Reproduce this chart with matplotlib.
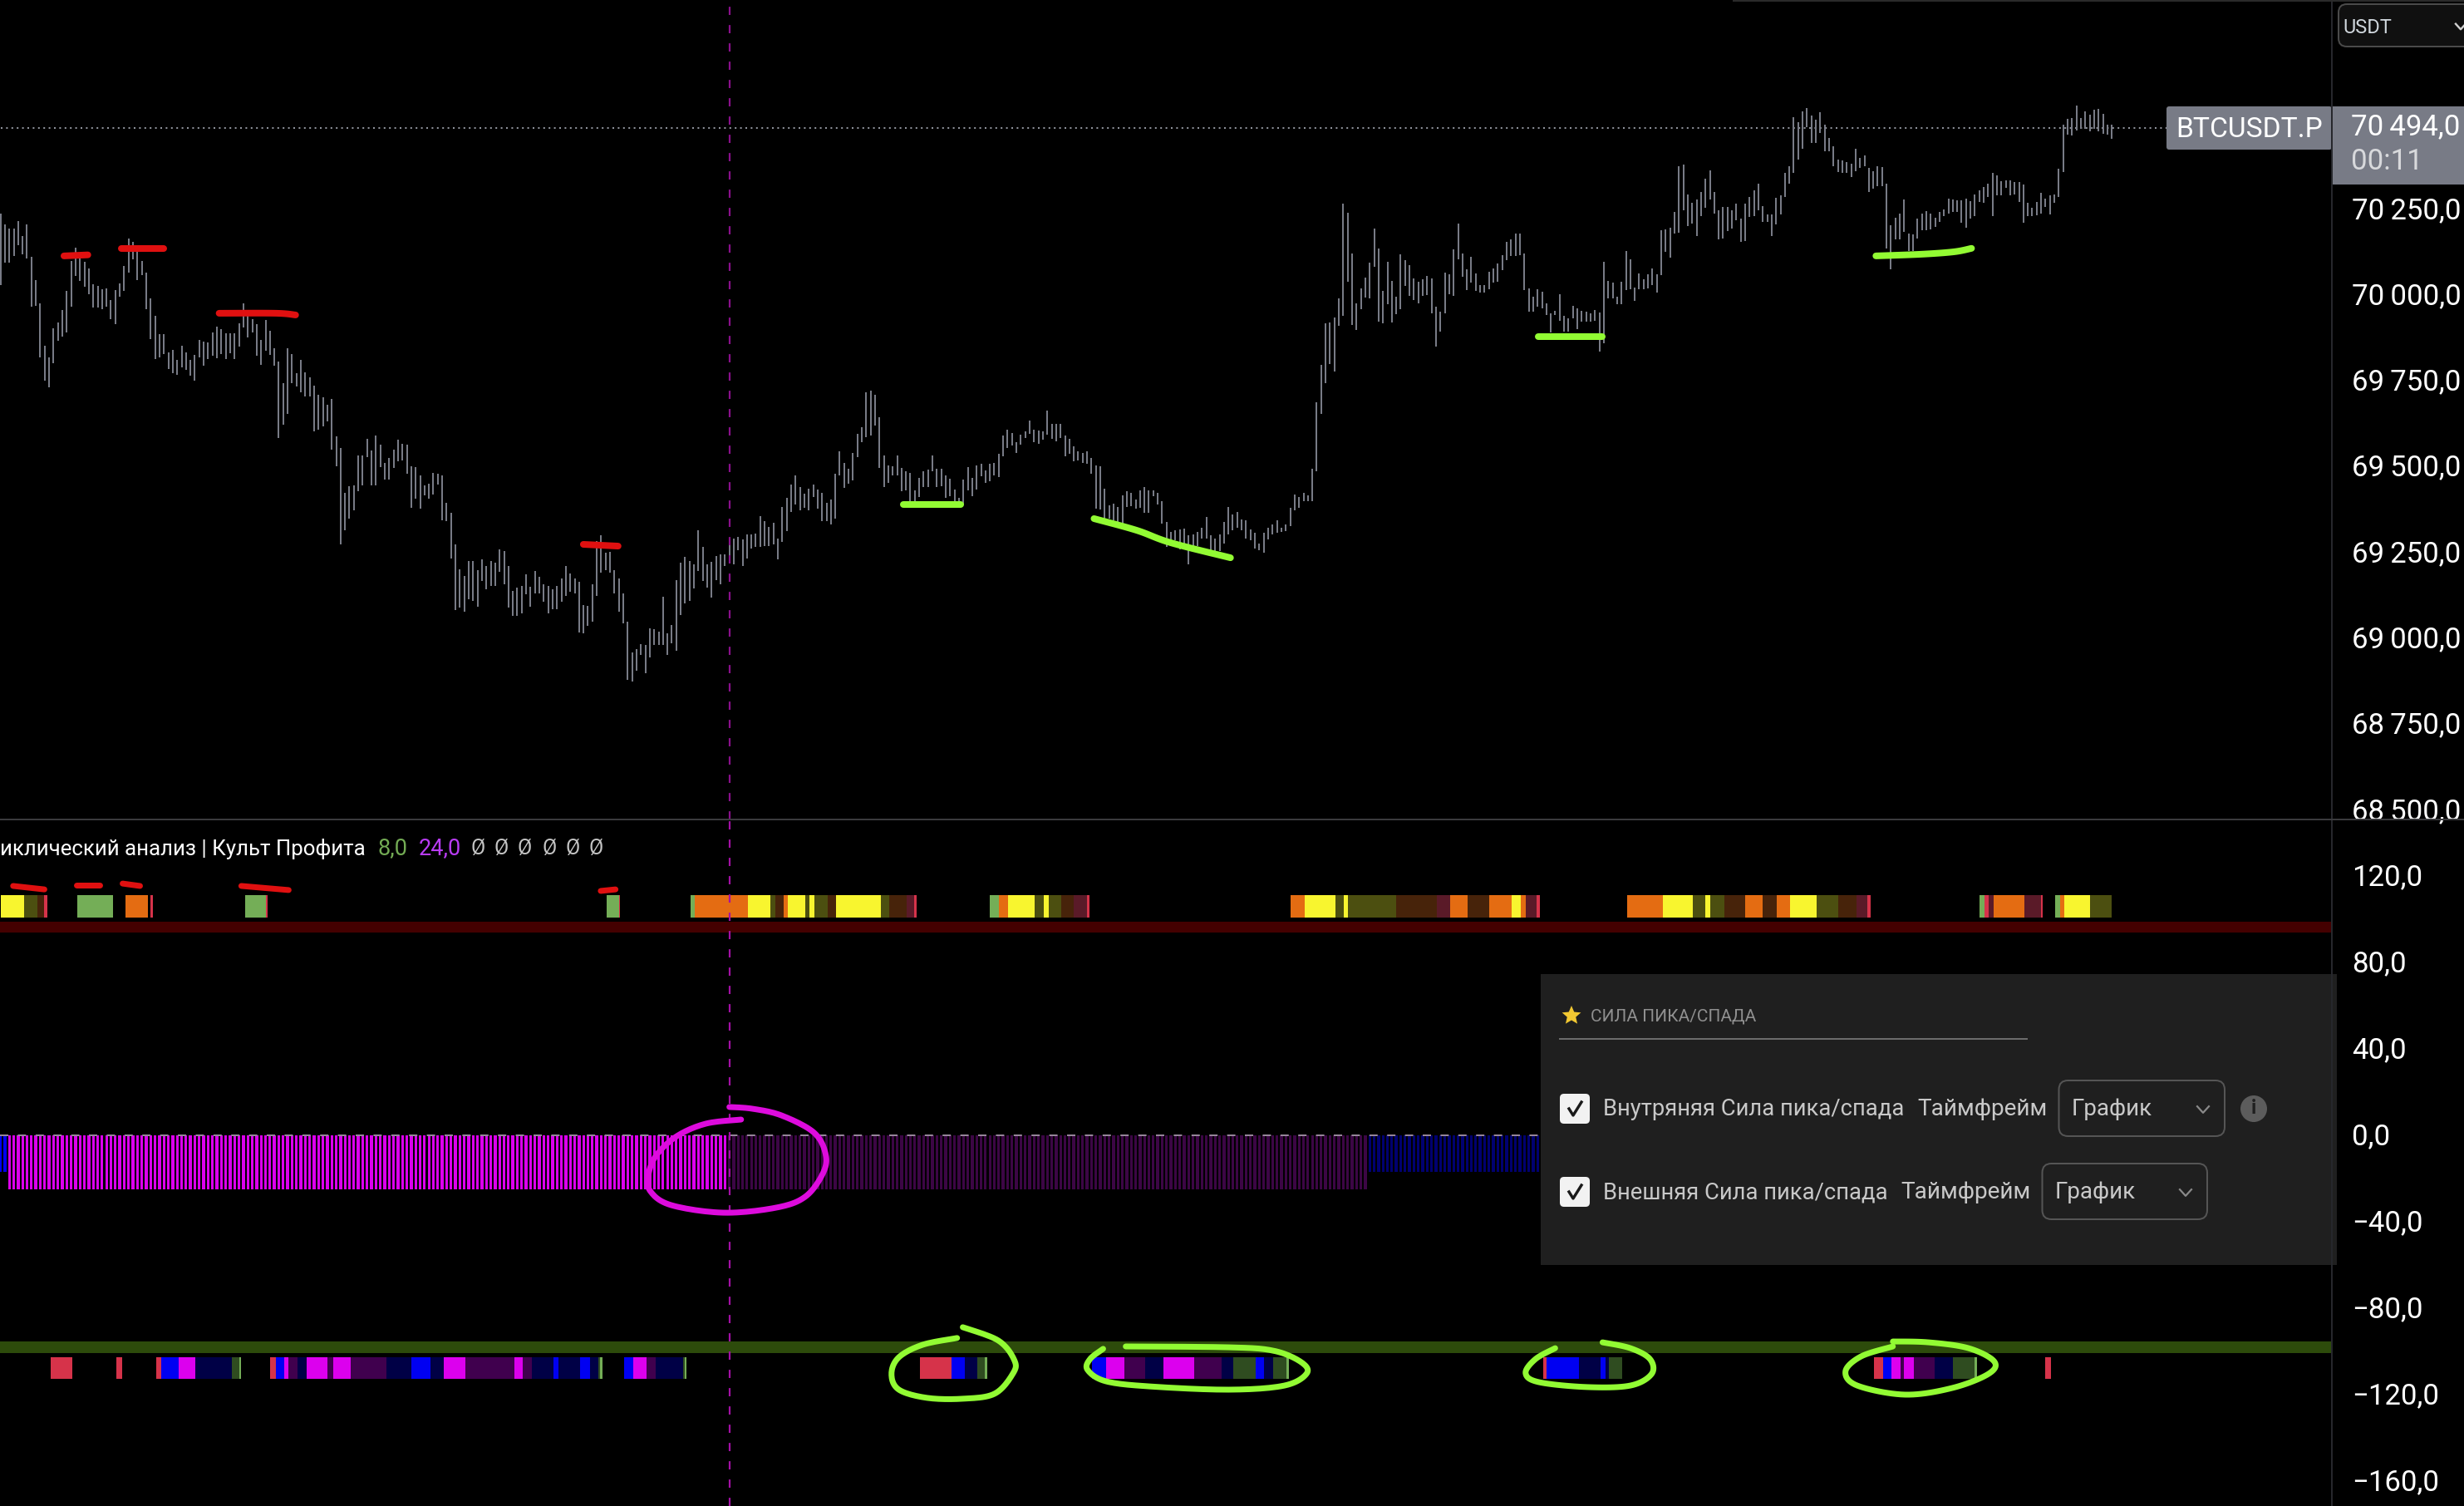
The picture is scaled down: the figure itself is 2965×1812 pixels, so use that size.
import numpy as np
import matplotlib
matplotlib.use("Agg")
import matplotlib.pyplot as plt
from matplotlib.patches import FancyBboxPatch, Rectangle, Circle, Polygon
from matplotlib.transforms import ScaledTranslation

# ---------- price data: high / low of every bar ----------
highs = [
70237,70206,70194,70194,70215,70171,70206,70111,70044,69975,69852,69818,69903,69920,69956,70011,70099,70138,70117,70097,
70077,70031,70026,70017,70019,69985,70014,70033,70084,70164,70155,70135,70099,70065,69991,69940,69886,69886,69833,69840,
69811,69852,69833,69811,69825,69869,69864,69862,69891,69907,69900,69889,69889,69889,69918,69975,69942,69929,69915,69869,
69927,69896,69845,69806,69743,69845,69827,69772,69811,69774,69760,69736,69709,69702,69680,69698,69588,69554,69423,69443,
69445,69532,69532,69581,69547,69591,69564,69511,69525,69549,69578,69567,69564,69501,69498,69474,69445,69450,69481,69479,
69474,69394,69365,69274,69201,69181,69225,69225,69198,69230,69212,69225,69220,69259,69254,69210,69138,69147,69154,69186,
69150,69196,69179,69157,69154,69143,69152,69174,69210,69189,69174,69165,69097,69094,69157,69283,69300,69249,69252,69198,
69174,69130,69049,68959,68970,68983,68981,69029,69026,69021,69121,69014,69039,69170,69220,69237,69225,69216,69314,69266,
69216,69223,69239,69245,69245,69278,69292,69295,69288,69303,69303,69305,69357,69341,69325,69336,69292,69383,69409,69447,
69476,69440,69421,69436,69447,69433,69425,69394,69405,
69479,69545,69511,69494,69540,69596,69614,69718,69721,69709,69644,69532,69504,69501,69534,69496,69487,69481,69432,69467,
69487,69491,69534,69494,69494,69474,69465,69433,69409,69462,69498,69467,69503,69508,69489,69508,69511,69537,69592,69607,
69598,69571,69593,69603,69634,69607,69605,69603,69663,69625,69625,69625,69590,69581,69559,69545,69540,69545,69525,69505,
69501,69436,69387,69392,69383,69416,69428,69423,69405,69431,69440,69431,69431,69423,69401,69339,69310,69314,69317,69321,
69300,69303,69310,69323,69354,69300,69290,69303,69339,69383,69361,69368,69346,69343,69317,69307,69276,69307,69323,69332,
69343,69323,69332,69380,69418,69412,69423,69416,69494,69689,69796,69918,69920,69934,69991,70266,70239,70120,69975,70019,
70051,70094,70193,70135,70013,70097,70040,69995,70118,70102,70087,70048,70038,70046,70055,70048,69966,69951,70065,70060,
70133,70208,70120,70075,70111,70062,70029,70029,70067,70077,70091,70116,70155,70162,70179,70179,70120,70019,69995,70017,
70009,69975,69947,69955,70002,69940,69933,69969,69962,69955,69952,69947,69957,69949,70097,70040,70036,69995,70038,70128,
70104,70022,70062,70046,70060,70077,70060,70189,
70192,70196,70243,70375,70381,70294,70268,70278,70300,70338,70362,70300,70248,70256,70256,70248,70266,70222,70266,70285,
70306,70324,70258,70235,70234,70282,70290,70356,70375,70518,70504,70536,70544,70523,70510,70532,70496,70457,70433,70395,
70391,70387,70383,70426,70399,70406,70371,70360,70375,70373,70324,70203,70224,70238,70278,70179,70177,70222,70236,70244,
70236,70226,70242,70250,70281,70278,70276,70276,70281,70274,70294,70304,70314,70325,70355,70348,70331,70333,70333,70329,
70328,70321,70268,70254,70270,70298,70281,70290,70292,70367,70496,70512,70516,70551,70516,70534,70526,70539,70542,70527,
70496,70496]
lows = [
70029,70094,70094,70113,70145,70118,70106,69966,69969,69818,69751,69731,69801,69867,69878,69891,69966,70055,70040,70024,
70003,69964,69963,69960,69966,69931,69915,69995,70011,70065,70104,70044,70058,69960,69872,69813,69818,69827,69784,69772,
69767,69789,69781,69765,69751,69818,69794,69813,69823,69816,69827,69813,69830,69813,69849,69905,69876,69891,69823,69796,
69838,69825,69794,69583,69622,69654,69743,69733,69718,69704,69704,69603,69607,69617,69632,69549,69501,69273,69314,69348,
69372,69428,69445,69527,69445,69445,69498,69462,69462,69496,69516,69518,69479,69380,69408,69378,69416,69407,69418,69447,
69343,69341,69234,69083,69090,69078,69114,69109,69093,69167,69143,69152,69152,69194,69157,69090,69066,69065,69072,69128,
69092,69132,69130,69106,69074,69085,69085,69107,69123,69136,69130,69017,69014,69036,69050,69125,69191,69198,69191,69132,
69079,69043,68879,68874,68905,68952,68900,68944,68981,68981,68981,68952,68985,68963,69068,69101,69109,69145,69196,69167,
69147,69119,69170,69157,69212,69220,69217,69256,69210,69234,69263,69266,69266,69268,69268,69273,69230,69281,69312,69368,
69389,69374,69380,69372,69413,69378,69341,69341,69332,
69348,69474,69438,69451,69460,69527,69571,69586,69591,69621,69496,69440,69454,69476,69476,69428,69432,69394,69394,69412,
69440,69440,69486,69440,69443,69409,69414,69380,69380,69387,69432,69414,69433,69472,69454,69457,69476,69469,69530,69554,
69562,69540,69564,69583,69596,69571,69567,69578,69593,69581,69574,69583,69530,69537,69515,69518,69511,69508,69479,69378,
69376,69341,69349,69343,69327,69334,69383,69385,69378,69380,69365,69365,69414,69389,69334,69266,69276,69285,69259,69261,
69217,69254,69268,69290,69292,69254,69254,69254,69276,69303,69314,69323,69314,69290,69285,69261,69256,69249,69288,69303,
69307,69310,69312,69327,69374,69380,69401,69401,69399,69487,69654,69743,69798,69777,69911,69940,70039,69913,69899,69960,
69993,69991,70082,69922,69918,69974,69920,69944,69959,70026,69997,69986,69975,69997,70000,69947,69850,69893,69947,70002,
69997,70104,70053,70015,70036,70013,70008,70008,70017,70036,70038,70073,70102,70113,70113,70116,70015,69952,69952,69966,
69962,69943,69891,69942,69926,69893,69893,69933,69901,69922,69923,69922,69926,69835,69860,69991,69991,69973,69973,70015,
70017,69982,70017,70017,70019,70029,70007,70058,
70127,70109,70179,70181,70246,70202,70207,70172,70231,70254,70278,70238,70163,70165,70187,70193,70218,70155,70157,70228,
70230,70246,70214,70214,70172,70206,70234,70286,70324,70355,70395,70427,70488,70444,70444,70472,70419,70418,70375,70357,
70355,70355,70344,70360,70371,70375,70301,70309,70317,70317,70135,70075,70163,70161,70185,70129,70129,70164,70189,70189,
70192,70198,70214,70230,70238,70242,70242,70210,70196,70222,70230,70272,70268,70286,70230,70290,70290,70312,70290,70292,
70270,70210,70230,70230,70232,70238,70256,70234,70268,70286,70359,70468,70465,70480,70484,70484,70476,70484,70476,70470,
70468,70456]

price_ticks = [70250, 70000, 69750, 69500, 69250, 69000, 68750, 68500]
price_tick_labels = ["70\u2009250,0", "70\u2009000,0", "69\u2009750,0", "69\u2009500,0",
                     "69\u2009250,0", "69\u2009000,0", "68\u2009750,0", "68\u2009500,0"]
price_line = 70487
last_price_label = "70\u2009494,0"
countdown_label = "00:11"
symbol_label = "BTCUSDT.P"

osc_ticks = [120, 80, 40, 0, -40, -80, -120, -160]
osc_tick_labels = ["120,0", "80,0", "40,0", "0,0", "\u221240,0", "\u221280,0", "\u2212120,0", "\u2212160,0"]

# ---------- oscillator data ----------
hist_blue_first = [-17, -17]
hist_magenta = [-25] * 163
hist_purple = [-25] * 145
hist_navy = [-17] * 169
crosshair_bar = 167.7

top_band = (93.8, 98.8)
bottom_band = (-100.8, -95.4)
top_stripe_range = (100.8, 111.0)
bottom_stripe_range = (-112.7, -102.7)

stripe_colors = {"y": "#f8f52f", "o": "#4c4f10", "b": "#47230a", "d": "#5a1a28", "r": "#d6334a",
                 "g": "#74ae57", "O": "#e46c12", "B": "#0000f2", "M": "#dc00ee", "n": "#000046",
                 "p": "#40004e", "G": "#2f4c20", "L": "#74ae57"}

top_starts = [0,5.4,8.4,10.1,17.6,28.7,34.4,56.2,61.0,139.4,142.3,158.7,159.7,171.9,177.1,178.2,180.1,181.1,185.1,186.2,
              187.2,190.3,192.2,202.5,204.4,208.4,210.3,227.7,229.8,231.9,238.0,240.0,241.1,244.0,247.0,249.9,296.9,300.0,
              307.1,309.0,310.1,321.2,330.4,333.5,337.5,342.5,347.6,349.7,350.9,353.5,374.2,382.4,389.3,392.3,393.3,396.6,
              401.5,405.5,408.6,411.7,417.8,422.9,427.0,429.6,455.4,456.4,457.4,458.5,465.6,469.4,472.7,473.8,474.8,480.7]
top_ends = [5.4,8.4,10.1,10.7,25.8,33.9,35.0,61.0,61.4,142.3,142.6,159.7,171.9,177.1,178.2,180.1,181.1,185.1,186.2,187.2,
            190.3,192.2,202.5,204.4,208.4,210.3,210.7,229.8,231.9,238.0,240.0,241.1,244.0,247.0,249.9,250.5,300.0,307.1,
            309.0,310.1,321.2,330.4,333.5,337.5,342.5,347.6,349.7,350.9,353.5,354.1,382.4,389.3,392.3,393.3,396.6,401.5,
            405.5,408.6,411.7,417.8,422.9,427.0,429.6,430.2,456.4,457.4,458.5,465.6,469.4,469.8,473.8,474.8,480.7,485.8]
top_codes = list("yobr" "g" "O" "r" "gr" "gr" "gOyobOyoyobyobdr" "gOyoyobdr" "Oyoyobd" "ObOyOdr" "Oyoyob" "ObOyobdr" "grdOdr" "gOyo")

bottom_starts = [11.5,26.6,35.8,36.9,40.9,44.9,53.2,54.9,62.1,63.3,65.2,66.3,68.3,70.4,75.3,76.5,80.5,88.7,94.6,98.9,101.9,
                 106.9,118.2,120.1,122.2,127.2,128.3,133.3,135.6,137.5,138.0,143.4,145.5,148.6,150.7,157.0,157.4,
                 211.5,218.8,221.8,224.7,226.4,251.2,254.3,258.5,263.3,267.5,274.6,280.9,283.7,288.7,290.8,292.9,295.8,
                 354.9,355.8,363.1,368.1,369.2,370.0,431.0,433.1,435.0,437.1,438.0,440.2,445.1,449.3,454.1,470.5]
bottom_ends = [16.6,27.9,36.9,40.9,44.9,53.2,54.9,55.4,63.3,65.2,66.3,68.3,70.4,75.3,76.5,80.5,88.7,94.6,98.9,101.9,106.9,
               118.2,120.1,122.2,127.2,128.3,133.3,135.6,137.5,138.0,138.6,145.5,148.6,150.7,157.0,157.4,157.9,
               218.8,221.8,224.7,226.4,227.0,254.3,258.5,263.3,267.5,274.6,280.9,283.7,288.7,290.8,292.9,295.8,296.4,
               355.8,363.1,368.1,369.2,370.0,373.2,433.1,435.0,437.1,438.0,440.2,445.1,449.3,454.1,454.7,471.8]
bottom_codes = list("r" "r" "rBMnGL" "rBMpnMpMpnBnMpMpnBnBnGL" "BMpnGL" "rBnGL" "BMpnMpnGBnGL" "rBnBnG" "rBMpMpnGL" "r")

# ---------- hand-drawn marks: (position, price) and (position, value) ----------
red_price_strokes = [
    ([14.6, 20.1], [70114, 70117]),
    ([27.8, 37.5], [70136, 70136]),
    ([50.3, 63.4, 67.9], [69947, 69947, 69942]),
    ([134.1, 142.1], [69274, 69269]),
]
green_price_strokes = [
    ([207.8, 221.0], [69390, 69390]),
    ([251.6, 261.4, 269.2, 283.0], [69349, 69315, 69279, 69235]),
    ([353.9, 368.6], [69879, 69879]),
    ([431.5, 442.1, 449.5, 453.5], [70114, 70119, 70126, 70136]),
]
red_osc_strokes = [
    ([2.9, 10.1], [115.4, 113.8]),
    ([17.4, 22.8], [115.8, 115.8]),
    ([28.1, 32.1], [116.5, 115.4]),
    ([55.4, 66.3], [115.4, 113.5]),
    ([138.1, 141.5], [113.1, 113.8]),
]
magenta_loop = ([170.4,162.3,155.6,150.9,149.1,149.5,154.3,166.3,178.4,185.1,189.1,189.9,187.2,179.7,173.0,167.7],
                [7.3,5.4,-0.4,-9.2,-18.1,-25.8,-32.3,-35.8,-33.5,-28.5,-18.1,-9.2,1.2,9.2,12.3,13.1])
green_loops = [
    ([220.1,212.2,206.7,205.0,206.7,213.2,221.4,228.7,232.9,233.3,229.6,221.4],
     [-93.8,-96.9,-102.7,-110.4,-117.7,-121.5,-121.9,-119.6,-110.4,-104.2,-95.0,-88.8]),
    ([253.7,250.7,250.1,254.3,264.4,282.6,295.4,300.6,299.0,292.7,282.6,258.9],
     [-98.8,-103.5,-108.5,-113.8,-116.2,-117.7,-115.8,-110,-104.6,-99.6,-98.1,-97.7]),
    ([357.7,353.2,350.9,353.9,365.0,375.0,379.9,379.5,375.0,368.6],
     [-98.5,-103.5,-110,-114.2,-116.5,-115.8,-110.4,-103.5,-98.5,-95.8]),
    ([435.4,428.1,424.5,427.2,438.2,449.1,457.4,458.7,452.8,443.6,435.4],
     [-97.7,-102.3,-109.2,-115.8,-120,-116.9,-110.4,-104.6,-98.5,-95.8,-95.4]),
]

legend_title = "иклический анализ | Культ Профита"
legend_values = ["8,0", "24,0"]
legend_blank = "\u00d8"
panel_title = "СИЛА ПИКА/СПАДА"
row_labels = ["Внутряняя Сила пика/спада", "Внешняя Сила пика/спада"]
tf_label = "Таймфрейм"
tf_value = "График"

# ---------- layout ----------
W, H = 2965, 1812
DPI = 100
BAR_PX = 5.315
UNIT = 5.23 / BAR_PX   # stripes and hand marks were measured in units of 5.23 px
PANE_R = 2806
DIV = 986
px = 72 / DPI  # points per pixel

plt.rcParams["font.family"] = ["Roboto", "DejaVu Sans"]
fig = plt.figure(figsize=(W / DPI, H / DPI), dpi=DPI, facecolor="black")


def make_axes(top, bottom):
    ax = fig.add_axes([0, 1 - bottom / H, PANE_R / W, (bottom - top) / H], facecolor="black")
    ax.set_xlim(-0.6 / BAR_PX, (PANE_R - 0.6) / BAR_PX)
    for s in ax.spines.values():
        s.set_visible(False)
    ax.xaxis.set_visible(False)
    ax.yaxis.tick_right()
    ax.tick_params(axis="y", length=0, pad=24 * px, labelsize=25, labelcolor="white")
    return ax


def lift_labels(ax, pixels):
    off = ScaledTranslation(0, pixels / DPI, fig.dpi_scale_trans)
    for lab in ax.get_yticklabels():
        lab.set_transform(lab.get_transform() + off)


def smooth(xs, ys, n=12):
    """Round off a hand-drawn stroke (Catmull-Rom through its points)."""
    p = np.column_stack([xs, ys]).astype(float)
    if len(p) < 3:
        return p[:, 0], p[:, 1]
    q = np.vstack([p[0], p, p[-1]])
    out = []
    for i in range(1, len(q) - 2):
        t = np.linspace(0, 1, n, endpoint=False)[:, None]
        a, b, c, d = q[i - 1], q[i], q[i + 1], q[i + 2]
        out.append(0.5 * (2 * b + (c - a) * t + (2 * a - 5 * b + 4 * c - d) * t**2 + (3 * b - a - 3 * c + d) * t**3))
    out.append(p[-1:])
    out = np.vstack(out)
    return out[:, 0], out[:, 1]


def stroke(ax, xs, ys, color, width_px):
    sx, sy = smooth(np.asarray(xs) * UNIT, ys)
    ax.plot(sx, sy, color=color, lw=width_px * px, solid_capstyle="round", solid_joinstyle="round", zorder=8)


# ---------- price pane ----------
ax1 = make_axes(0, DIV)
ax1.set_ylim(70000 - (DIV - 355) / 0.4132, 70000 + 355 / 0.4132)
bars = np.arange(len(highs))
ax1.vlines(bars, lows, highs, color="#787b86", lw=2 * px, zorder=3)
ax1.set_yticks(price_ticks, price_tick_labels)
lift_labels(ax1, 2)
ax1.plot([0, 2607 / BAR_PX], [price_line, price_line], color="#8f929b", lw=2 * px,
         dashes=(1, 2.2), zorder=2)
ax1.axvline(crosshair_bar * UNIT, color="#8a108c", lw=2.2 * px, dashes=(4.5, 5.5), zorder=4)
for xs, ys in red_price_strokes:
    stroke(ax1, xs, ys, "#e01010", 8)
for xs, ys in green_price_strokes:
    stroke(ax1, xs, ys, "#92fb33", 8)

# ---------- oscillator pane ----------
ax2 = make_axes(DIV + 1, H)
ax2.set_ylim((1366 - H) * 40 / 104, (1366 - DIV - 1) * 40 / 104)
ax2.set_yticks(osc_ticks, osc_tick_labels)
lift_labels(ax2, 2)
ax2.axhspan(*top_band, color="#440000", lw=0, zorder=1)
ax2.axhspan(*bottom_band, color="#2d4b0b", lw=0, zorder=1)

i0 = 0
for vals, col in [(hist_blue_first, "#0000f2"), (hist_magenta, "#dc00ee"),
                  (hist_purple, "#3c0645"), (hist_navy, "#000070")]:
    ax2.bar(np.arange(i0, i0 + len(vals)), vals, width=0.62, color=col, lw=0, zorder=2)
    i0 += len(vals)
ax2.axhline(0, color="#96869a", lw=2 * px, dashes=(5, 5.7), zorder=3)

for starts, ends, codes, rng in [(top_starts, top_ends, top_codes, top_stripe_range),
                                 (bottom_starts, bottom_ends, bottom_codes, bottom_stripe_range)]:
    for s, e, c in zip(starts, ends, codes):
        ax2.barh(rng[0], (e - s) * UNIT, height=rng[1] - rng[0], left=s * UNIT, align="edge",
                 color=stripe_colors[c], lw=0, zorder=3)
ax2.axvline(crosshair_bar * UNIT, color="#a410a6", lw=2.2 * px, dashes=(4.5, 5.5), zorder=4)

for xs, ys in red_osc_strokes:
    stroke(ax2, xs, ys, "#e01010", 7)
stroke(ax2, magenta_loop[0], magenta_loop[1], "#dd0bdd", 7)
for xs, ys in green_loops:
    stroke(ax2, xs, ys, "#92fb33", 7)

# ---------- screen furniture in pixel coordinates ----------
ov = fig.add_axes([0, 0, 1, 1], facecolor="none", zorder=10)
ov.set_xlim(0, W)
ov.set_ylim(H, 0)
ov.axis("off")


def rbox(x0, y0, x1, y1, r, fc, ec="none", lw=0):
    ov.add_patch(FancyBboxPatch((x0 + r, y0 + r), x1 - x0 - 2 * r, y1 - y0 - 2 * r,
                                boxstyle=f"round,pad={r},rounding_size={r}",
                                fc=fc, ec=ec, lw=lw * px, mutation_aspect=1))


def chevron(x, y, s=7, color="#9a9a9a", lw=2.4):
    ov.plot([x - s, x, x + s], [y - s * 0.55, y + s * 0.55, y - s * 0.55], color=color, lw=lw * px)


# separators
ov.plot([PANE_R, PANE_R], [0, H], color="#26272c", lw=2 * px)
ov.plot([0, W], [DIV, DIV], color="#3a3a3d", lw=2 * px)
ov.plot([2086, W], [1, 1], color="#2a2a2a", lw=2 * px)

# currency selector
rbox(2814, 5, 3000, 56, 10, "#101010", "#4a4a4a", 2)
ov.text(2819, 34, "USDT", color="#cfd6dc", fontsize=17, va="center", ha="left")
chevron(2961, 32, 6, "#d0d0d0", 2.4)

# last-price labels
ov.add_patch(Rectangle((2807, 128), W - 2807, 94, fc="#787b86", lw=0))
rbox(2607, 128, 2806, 180, 3, "#787b86")
ov.text(2618, 156, symbol_label, color="white", fontsize=24.2, va="center", ha="left")
ov.text(2829, 153, last_price_label, color="white", fontsize=25, va="center", ha="left")
ov.text(2829, 195, countdown_label, color="#d8d9dc", fontsize=25, va="center", ha="left")

# indicator legend
ov.text(0, 1021, legend_title, color="white", fontsize=18.6, va="center", ha="left")
ov.text(455, 1021, legend_values[0], color="#73ab54", fontsize=19.5, va="center", ha="left")
ov.text(504, 1021, legend_values[1], color="#b93cf5", fontsize=19.5, va="center", ha="left")
for x in [567, 595, 623, 652, 680, 709]:
    ov.text(x, 1021, legend_blank, color="#c4c4c4", fontsize=18, va="center", ha="left")

# settings panel
ov.add_patch(Rectangle((1854, 1172), 2812 - 1854, 1522 - 1172, fc="#1f1f1f", lw=0))
star_a = np.deg2rad(np.arange(90, 450, 36))
star_r = np.where(np.arange(10) % 2 == 0, 12, 5.5)
ov.add_patch(Polygon(np.column_stack([1891 + star_r * np.cos(star_a), 1222 - star_r * np.sin(star_a)]),
                     fc="#f2c832", lw=0))
ov.text(1914, 1223, panel_title, color="#8f8f8f", fontsize=15, va="center", ha="left")
ov.plot([1877, 2439], [1250, 1250], color="#6b6b6b", lw=2 * px)

rows = [(1334, 2307, 2477.5, 2677), (1434, 2287, 2457.5, 2656)]
for (yc, xtf, dx0, dx1), lab in zip(rows, row_labels):
    rbox(1877, yc - 18, 1913, yc + 18, 5, "#f2f2f2")
    ov.plot([1888, 1893, 1903], [yc, yc + 8, yc - 8], color="#1a1a1a", lw=3.4 * px)
    ov.text(1929, yc + 1, lab, color="#c8c8c8", fontsize=19.7, va="center", ha="left")
    ov.text(xtf, yc + 1, tf_label, color="#c8c8c8", fontsize=20.2, va="center", ha="left")
    rbox(dx0, yc - 34, dx1, yc + 33, 11, "none", "#555555", 2)
    ov.text(dx0 + 15, yc + 1, tf_value, color="#c8c8c8", fontsize=20, va="center", ha="left")
    chevron(dx1 - 26, yc + 1, 7, "#8a8a8a", 2.2)
ov.add_patch(Circle((2712, 1334), 16, fc="#5c5c5c", lw=0))
ov.text(2712, 1334, "i", color="#1f1f1f", fontsize=17, fontweight="bold", va="center", ha="center")

fig.savefig("out.png", dpi=DPI, facecolor="black")
